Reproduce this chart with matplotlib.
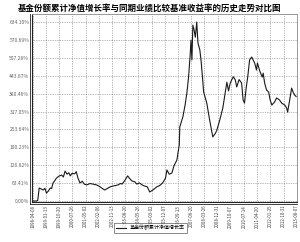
import matplotlib
matplotlib.use("Agg")
import matplotlib.pyplot as plt
from matplotlib.lines import Line2D
import pandas as pd

plt.rcParams['font.family'] = ['Noto Sans CJK SC', 'DejaVu Sans']

title = "基金份额累计净值增长率与同期业绩比较基准收益率的历史走势对比图"
series_name = "基金份额累计净值增长率"

dates = [
    "1998-04-08", "1998-06-15", "1998-07-20", "1998-08-20", "1998-10-10", "1998-11-15",
    "1998-12-20", "1999-01-20", "1999-03-01", "1999-04-10", "1999-05-10", "1999-06-10",
    "1999-07-15", "1999-08-20", "1999-10-10", "1999-12-10", "2000-01-15", "2000-02-20",
    "2000-04-01", "2000-05-10", "2000-06-10", "2000-07-15", "2000-09-10", "2000-10-15",
    "2000-11-20", "2001-01-01", "2001-02-20", "2001-04-01", "2001-05-25", "2001-08-01",
    "2001-10-01", "2001-12-20", "2002-02-15", "2002-04-15", "2002-06-10", "2002-08-01",
    "2002-10-01", "2002-12-01", "2003-02-01", "2003-03-20", "2003-05-10", "2003-06-15",
    "2003-08-20", "2003-10-10", "2003-11-20", "2004-01-10", "2004-03-10", "2004-04-20",
    "2004-06-15", "2004-09-01", "2004-12-01", "2005-01-20", "2005-03-20", "2005-06-20",
    "2005-08-20", "2005-10-20", "2005-12-20", "2006-01-20", "2006-03-10", "2006-05-05",
    "2006-06-20", "2006-08-20", "2006-10-10", "2006-10-20", "2006-12-25", "2007-02-10",
    "2007-03-20", "2007-04-25", "2007-05-30", "2007-06-15", "2007-07-05", "2007-07-25",
    "2007-08-20", "2007-09-15", "2007-10-15", "2007-11-10", "2007-12-20", "2008-01-20",
    "2008-02-15", "2008-03-10", "2008-05-15", "2008-07-15", "2008-09-20", "2008-11-15",
    "2008-12-15", "2009-02-15", "2009-04-20", "2009-06-10", "2009-07-15", "2009-08-20",
    "2009-09-20", "2009-10-25", "2009-12-01", "2010-01-10", "2010-02-10", "2010-04-01",
    "2010-05-25", "2010-06-25", "2010-07-25", "2010-09-01", "2010-10-01", "2010-11-10",
    "2010-12-25", "2011-01-25", "2011-02-25", "2011-04-05", "2011-04-25", "2011-06-15",
    "2011-08-05", "2011-08-25", "2011-09-25", "2011-11-05", "2011-12-20", "2012-01-20",
    "2012-02-25", "2012-04-25", "2012-06-05", "2012-08-05", "2012-09-20", "2012-11-25",
    "2013-01-05", "2013-01-25", "2013-03-10", "2013-04-20", "2013-05-20", "2013-06-25",
    "2013-07-25",
]
values = [
    0, 0, 2, 46, 42, 39,
    45, 28, 35, 46, 44, 64,
    72, 81, 88, 92, 85, 106,
    95, 100, 89, 98, 96, 104,
    81, 64, 70, 60, 57, 62,
    60, 57, 52, 45, 39, 44,
    50, 53, 55, 57, 62, 60,
    75, 89, 80, 71, 68, 60,
    64, 55, 50, 32, 38, 50,
    55, 64, 80, 110, 95, 99,
    125, 145, 200, 262, 298, 340,
    383, 439, 520, 570, 500, 623,
    606, 580, 634, 560, 535, 489,
    436, 386, 347, 287, 227, 240,
    251, 287, 329, 383, 421, 390,
    415, 429, 440, 429, 404, 430,
    418, 358, 347, 404, 439, 500,
    510, 499, 489, 464, 489, 460,
    439, 453, 418, 393, 386, 358,
    340, 351, 365, 358, 347, 340,
    329, 315, 358, 400, 386, 375,
    370,
]

y_ticks = [0.00, 63.41, 126.82, 190.23, 253.64, 317.05, 380.46, 443.87, 507.28, 570.69, 634.10]
x_tick_labels = [
    "1998-04-08", "1999-01-13", "1999-10-20", "2000-07-26", "2001-05-02", "2002-02-06",
    "2002-11-13", "2003-08-20", "2004-05-26", "2005-03-02", "2005-12-07", "2006-09-13",
    "2007-06-20", "2008-03-26", "2008-12-31", "2009-10-07", "2010-07-14", "2011-04-20",
    "2012-01-25", "2012-10-31", "2013-08-07",
]

W, H = 300, 242
fig = plt.figure(figsize=(W / 100, H / 100), dpi=100)
ax = fig.add_axes([32 / W, 1 - 202 / H, (297 - 32) / W, (202 - 14) / H])

d = pd.to_datetime(dates)
ax.plot(d, values, color="#1a1a1a", lw=0.8)

xt = pd.to_datetime(x_tick_labels)
ax.set_xticks(xt)
ax.set_xticklabels(x_tick_labels, rotation=90, fontsize=3.2, color="#444444")
ax.set_xlim(pd.Timestamp("1998-03-20"), pd.Timestamp("2013-08-12"))

ax.set_yticks(y_ticks)
ax.set_yticklabels([f"{v:.2f}%" for v in y_ticks], fontsize=3.6, color="#666666")
ax.set_ylim(-3.5, 662.4)

ax.grid(True, color="#777777", linestyle=(0, (1, 1.5)), linewidth=0.5)
ax.tick_params(axis="both", length=0, pad=2)

for s in ["top", "right"]:
    ax.spines[s].set_color("#888888")
    ax.spines[s].set_linewidth(0.6)
for s in ["left", "bottom"]:
    ax.spines[s].set_color("#222222")
    ax.spines[s].set_linewidth(0.8)

# double-line look on left and bottom axes
fig.add_artist(Line2D([30 / W, 30 / W], [1 - 204 / H, 1 - 14 / H], color="#222222", lw=0.6))
fig.add_artist(Line2D([30 / W, 297 / W], [1 - 204 / H, 1 - 204 / H], color="#222222", lw=0.6))

fig.text(0.5, 1 - 8 / H, title, ha="center", va="center", fontsize=6.1, fontweight="bold")

leg = fig.legend(handles=[Line2D([], [], color="#1a1a1a", lw=0.8)], labels=[series_name],
                 loc="center", bbox_to_anchor=(0.5, 1 - 228 / H), fontsize=3.6,
                 frameon=True, fancybox=False, handlelength=2.0, borderpad=0.4)
leg.get_frame().set_edgecolor("#333333")
leg.get_frame().set_linewidth(0.5)

fig.savefig("out.png", dpi=100)
